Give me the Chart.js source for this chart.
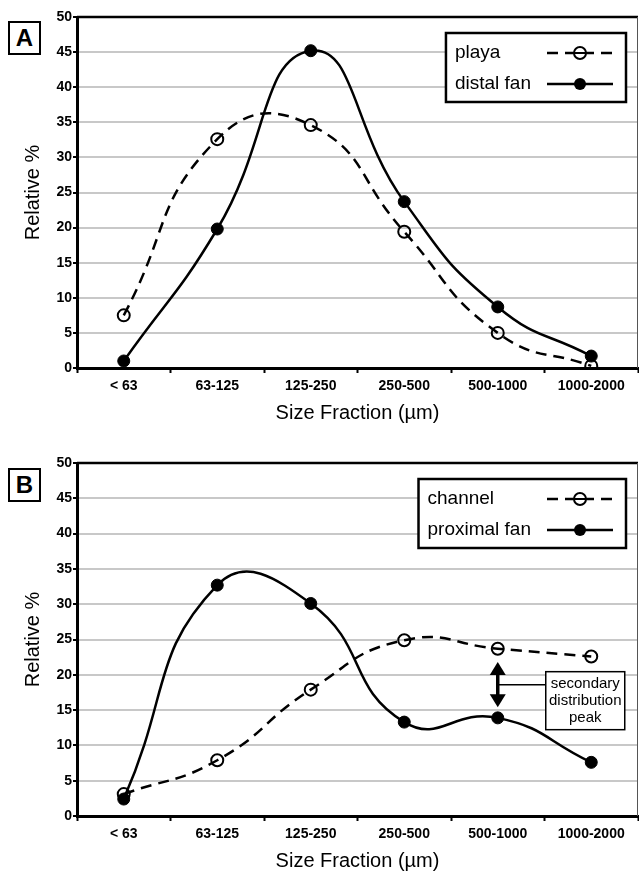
<html>
<head>
<meta charset="utf-8">
<script src="https://cdn.jsdelivr.net/npm/chart.js@4/dist/chart.umd.min.js"></script>
<style>
  body { margin: 0; background: #fff; font-family: "Liberation Sans", Arial, sans-serif; }
  .panel { position: relative; width: 639px; }
  canvas { display: block; }
  .tag { position: absolute; left: 8px; width: 29px; height: 30px; border: 2px solid #000;
         font: bold 24px "Liberation Sans", Arial, sans-serif; text-align: center; line-height: 30px; background: #fff; }
</style>
</head>
<body>
<div class="panel"><canvas id="chartA" width="639" height="430"></canvas><div class="tag" style="top:21px">A</div></div>
<div class="panel"><canvas id="chartB" width="639" height="441"></canvas><div class="tag" style="top:38px">B</div></div>
<script>
// size fractions (µm) and relative % per sample type
const sizeFractions = ['< 63', '63-125', '125-250', '250-500', '500-1000', '1000-2000'];
const playa       = [7.5, 32.6, 34.6, 19.4, 5.0, 0.3];
const distalFan   = [1.0, 19.8, 45.2, 23.7, 8.7, 1.7];
const channel     = [3.1, 7.9, 17.9, 24.9, 23.7, 22.6];
const proximalFan = [2.4, 32.7, 30.1, 13.3, 13.9, 7.6];
const yMin = 0, yMax = 50, yStep = 5;
// secondary peak marker in panel B (category, from %, to %)
const peakCategory = '500-1000';
const peakFrom = 21.8, peakTo = 15.4;
const peakNote = ['secondary', 'distribution', 'peak'];

const FONT = '"Liberation Sans", Arial, sans-serif';

function openSeries(label, data) {
  return {
    label, data, borderColor: '#000', borderWidth: 2.5, borderDash: [11, 7],
    pointStyle: 'circle', pointRadius: 6, pointBorderWidth: 2,
    pointBackgroundColor: 'rgba(0,0,0,0)', pointBorderColor: '#000', tension: 0.5
  };
}
function filledSeries(label, data) {
  return {
    label, data, borderColor: '#000', borderWidth: 2.5,
    pointStyle: 'circle', pointRadius: 6, pointBorderWidth: 1,
    pointBackgroundColor: '#000', pointBorderColor: '#000', tension: 0.5
  };
}

// frame + custom legend box
const framePlugin = {
  id: 'frame',
  beforeDatasetsDraw(chart) {
    const {ctx, chartArea: a} = chart;
    ctx.save();
    ctx.strokeStyle = '#000'; ctx.lineWidth = 2.5;
    ctx.beginPath(); ctx.moveTo(a.left, a.top); ctx.lineTo(a.right, a.top); ctx.stroke();
    ctx.strokeStyle = '#555'; ctx.lineWidth = 1;
    ctx.beginPath(); ctx.moveTo(a.right - 0.5, a.top); ctx.lineTo(a.right - 0.5, a.bottom); ctx.stroke();
    ctx.restore();
  },
  afterDraw(chart) {
    const {ctx, chartArea: a} = chart;
    const sets = chart.data.datasets;
    ctx.save();
    ctx.font = '19px ' + FONT;
    const tw = Math.max(...sets.map(d => ctx.measureText(d.label).width));
    const w = 9 + tw + 16 + 66 + 13, h = 69;
    const x = a.right - 12 - w, y = a.top + 16;
    ctx.fillStyle = '#fff'; ctx.fillRect(x, y, w, h);
    ctx.strokeStyle = '#000'; ctx.lineWidth = 2.5; ctx.strokeRect(x, y, w, h);
    sets.forEach((d, i) => {
      const cy = y + 20 + i * 31;
      ctx.fillStyle = '#000'; ctx.textBaseline = 'middle'; ctx.textAlign = 'left';
      ctx.fillText(d.label, x + 9, cy);
      const lx = x + w - 13 - 66;
      ctx.lineWidth = 2.5; ctx.setLineDash(d.borderDash || []);
      ctx.beginPath(); ctx.moveTo(lx, cy); ctx.lineTo(lx + 66, cy); ctx.stroke();
      ctx.setLineDash([]);
      ctx.beginPath(); ctx.arc(lx + 33, cy, 6, 0, Math.PI * 2);
      if (d.pointBackgroundColor === '#000') { ctx.fill(); }
      else { ctx.fillStyle = '#fff'; ctx.fill(); ctx.lineWidth = 2; ctx.stroke();
             ctx.beginPath(); ctx.moveTo(lx + 27, cy); ctx.lineTo(lx + 39, cy); ctx.stroke(); }
    });
    ctx.restore();
  }
};

// double arrow + note for the secondary peak
const notePlugin = {
  id: 'note',
  afterDraw(chart, args, opts) {
    if (!opts.show) return;
    const {ctx, scales: {x, y}} = chart;
    const px = x.getPixelForValue(sizeFractions.indexOf(peakCategory));
    const y1 = y.getPixelForValue(peakFrom), y2 = y.getPixelForValue(peakTo);
    const ym = (y1 + y2) / 2;
    ctx.save();
    ctx.strokeStyle = '#000'; ctx.fillStyle = '#000'; ctx.lineWidth = 3.5;
    ctx.beginPath(); ctx.moveTo(px, y1 + 10); ctx.lineTo(px, y2 - 10); ctx.stroke();
    ctx.beginPath(); ctx.moveTo(px, y1); ctx.lineTo(px - 8, y1 + 13); ctx.lineTo(px + 8, y1 + 13); ctx.closePath(); ctx.fill();
    ctx.beginPath(); ctx.moveTo(px, y2); ctx.lineTo(px - 8, y2 - 13); ctx.lineTo(px + 8, y2 - 13); ctx.closePath(); ctx.fill();
    ctx.lineWidth = 1.5;
    ctx.beginPath(); ctx.moveTo(px, ym); ctx.lineTo(px + 48, ym); ctx.stroke();
    const bx = px + 48, bw = 79, bh = 58, by = ym - 13;
    ctx.fillStyle = '#fff'; ctx.fillRect(bx, by, bw, bh);
    ctx.strokeRect(bx, by, bw, bh);
    ctx.fillStyle = '#000'; ctx.font = '15px ' + FONT;
    ctx.textAlign = 'center'; ctx.textBaseline = 'middle';
    peakNote.forEach((t, i) => ctx.fillText(t, bx + bw / 2, by + 12 + i * 17));
    ctx.restore();
  }
};

function makeChart(id, datasets, padTop, padBottom, showNote) {
  return new Chart(document.getElementById(id), {
    type: 'line',
    data: { labels: sizeFractions, datasets },
    plugins: [framePlugin, notePlugin],
    options: {
      responsive: false, animation: false, devicePixelRatio: 1,
      layout: { autoPadding: false, padding: { top: padTop, bottom: padBottom, left: 0, right: 1 } },
      plugins: { legend: { display: false }, tooltip: { enabled: false }, note: { show: showNote } },
      scales: {
        x: {
          offset: true,
          grid: { offset: true, drawOnChartArea: false, tickLength: 5, tickColor: '#000', tickWidth: 2 },
          border: { color: '#000', width: 3 },
          ticks: { color: '#000', padding: 5, font: { family: FONT, size: 14, weight: 'bold' } },
          title: { display: true, text: 'Size Fraction (µm)', color: '#000', padding: { top: 0, bottom: 0 },
                   font: { family: FONT, size: 20, lineHeight: 1 } },
          afterFit(s) { s.height = 55; s.paddingLeft = 0; s.paddingRight = 0; }
        },
        y: {
          min: yMin, max: yMax,
          grid: { color: '#c8c8c8', lineWidth: 2, tickLength: 4, tickColor: '#000', tickWidth: 2 },
          border: { color: '#000', width: 3 },
          ticks: { stepSize: yStep, color: '#000', padding: 1, font: { family: FONT, size: 14, weight: 'bold' } },
          title: { display: true, text: 'Relative %', color: '#000', padding: { top: 23, bottom: 0 },
                   font: { family: FONT, size: 20, lineHeight: 1 } },
          afterFit(s) { s.width = 77; }
        }
      }
    }
  });
}

makeChart('chartA', [openSeries('playa', playa), filledSeries('distal fan', distalFan)], 17, 7, false);
makeChart('chartB', [openSeries('channel', channel), filledSeries('proximal fan', proximalFan)], 33, 0, true);
</script>
</body>
</html>
